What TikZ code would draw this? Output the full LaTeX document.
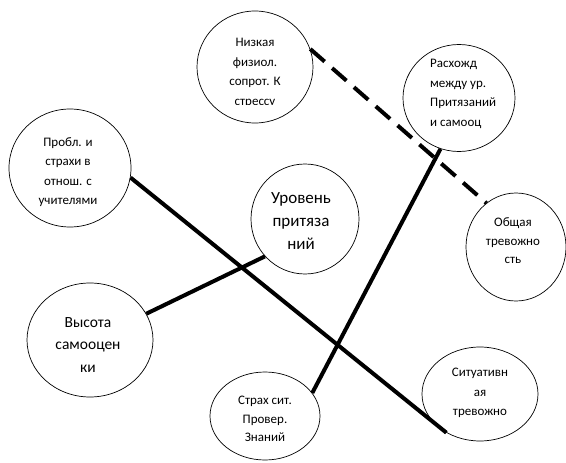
\documentclass[tikz,border=0pt]{standalone}
\usepackage{fontspec}
\setmainfont{Carlito}
\usetikzlibrary{shapes.geometric}
\begin{document}
\begin{tikzpicture}[x=1pt,y=-1pt,
  bub/.style={draw, ellipse, line width=0.7pt, inner sep=0pt},
  lab/.style={font=\fontsize{13}{19.5}\selectfont, align=center, inner sep=0pt},
  big/.style={font=\fontsize{16.5}{23}\selectfont, align=center, inner sep=0pt},
  link/.style={line width=4pt}]
\useasboundingbox (0,0) rectangle (566,463);
% bubbles
\node[bub, minimum width=116pt, minimum height=112pt] (niz) at (255,67) {};
\node[bub, minimum width=112pt, minimum height=107pt] (ras) at (459,98) {};
\node[bub, minimum width=122pt, minimum height=118pt] (pro) at (70,168) {};
\node[bub, minimum width=108pt, minimum height=110pt] (urv) at (305,219) {};
\node[bub, minimum width=100pt, minimum height=108pt] (obs) at (516,247) {};
\node[bub, minimum width=126pt, minimum height=114pt] (vys) at (90,340) {};
\node[bub, minimum width=110pt, minimum height=88pt] (str) at (265,416) {};
\node[bub, minimum width=116pt, minimum height=94pt] (sit) at (480,394) {};
% texts
\begin{scope}
\clip (190,0) rectangle (320,104);
\node[lab] (tniz) at (255,73) {Низкая\\физиол.\\сопрот. К\\стрессу};
\end{scope}
\node[lab, align=left, anchor=west] (tras) at (430,94) {Расхожд\\между ур.\\Притязаний\\и самооц};
\node[lab] (tpro) at (68,172) {Пробл. и\\страхи в\\отнош. с\\учителями};
\node[big, font=\fontsize{17}{23}\selectfont] (turv) at (301,221) {Уровень\\притяза\\ний};
\node[big, font=\fontsize{15.5}{22.5}\selectfont] (tvys) at (88,345) {Высота\\самооцен\\ки};
\node[lab, font=\fontsize{13}{18.5}\selectfont] (tobs) at (513,241) {Общая\\тревожно\\сть};
\node[lab, font=\fontsize{13}{18.5}\selectfont] (tstr) at (265,419) {Страх сит.\\Провер.\\Знаний};
\node[lab] (tsit) at (480,393) {Ситуативн\\ая\\тревожно};
% connectors
\draw[link, dash pattern=on 19pt off 10pt] (niz.18) -- (obs.124);
\draw[link] (pro.-9) -- (sit.-131);
\draw[link] (vys.25) -- (urv.223);
\draw[link] (str.26) -- (ras.250);
\end{tikzpicture}
\end{document}
